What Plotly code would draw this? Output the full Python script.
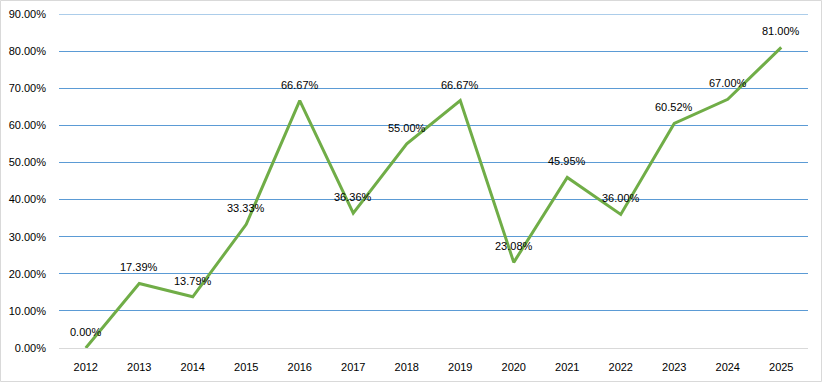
import plotly.graph_objects as go

years = ["2012", "2013", "2014", "2015", "2016", "2017", "2018", "2019",
         "2020", "2021", "2022", "2023", "2024", "2025"]
rates = [0.0, 17.39, 13.79, 33.33, 66.67, 36.36, 55.00, 66.67,
         23.08, 45.95, 36.00, 60.52, 67.00, 81.00]
y_ticks = [0, 10, 20, 30, 40, 50, 60, 70, 80, 90]

xs = list(range(len(years)))
values = [r / 100 for r in rates]
y_max = y_ticks[-1] / 100

fig = go.Figure()
fig.add_trace(go.Scatter(
    x=xs, y=values, mode="lines",
    line=dict(color="#70AD47", width=3),
    hoverinfo="skip",
))

for x, v, r in zip(xs, values, rates):
    fig.add_annotation(x=x, y=v, text=f"{r:.2f}%", showarrow=False,
                       yshift=16, font=dict(size=11, color="#000000"))

fig.update_layout(
    width=822, height=382,
    margin=dict(l=59, r=14, t=14, b=34, autoexpand=False),
    paper_bgcolor="white", plot_bgcolor="white",
    font=dict(family="Liberation Sans, Arial, sans-serif", size=11, color="#000000"),
    showlegend=False,
)
fig.update_xaxes(
    range=[-0.5, len(years) - 0.5], tickvals=xs, ticktext=years,
    showgrid=False, showline=True, linecolor="#D9D9D9", zeroline=False,
    linewidth=1, ticks="", ticklabelstandoff=9, tickfont=dict(size=11),
    automargin=False,
)
fig.update_yaxes(
    range=[0, y_max], tickvals=[t / 100 for t in y_ticks],
    ticktext=[f"{t:.2f}%" for t in y_ticks],
    showgrid=True, gridcolor="#5B9BD5", gridwidth=1, zeroline=False,
    ticks="", ticklabelstandoff=12, tickfont=dict(size=11),
    automargin=False,
)
# top gridline (Plotly omits the grid line at the range edge)
fig.add_shape(type="line", xref="paper", yref="y", x0=0, x1=1, y0=y_max, y1=y_max,
              line=dict(color="#5B9BD5", width=1), layer="below")
fig.add_shape(type="rect", xref="paper", yref="paper",
              x0=-58.5 / 749, x1=1 + 13.5 / 749, y0=-33.5 / 334, y1=1 + 13.5 / 334,
              line=dict(color="#D9D9D9", width=1), fillcolor="rgba(0,0,0,0)", layer="below")

fig.write_html("out.html", config={"displayModeBar": False},
               post_script="document.body.style.margin='0';document.body.style.overflow='hidden';")
